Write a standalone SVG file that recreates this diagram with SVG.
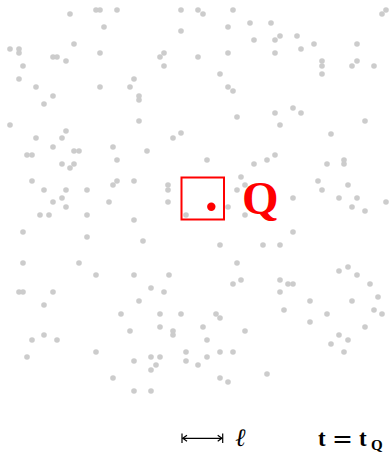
<svg xmlns="http://www.w3.org/2000/svg" width="389" height="455" viewBox="0 0 389 455">
<style>
.d{fill:#cccccc}
.red{fill:#ff0000}
.lbl{font-family:"Liberation Serif","DejaVu Serif",serif}
</style>
<defs><circle id="p" r="2.8" class="d"/></defs>
<rect width="389" height="455" fill="#ffffff"/>
<g id="points">
<use href="#p" x="70" y="14"/><use href="#p" x="96" y="10"/><use href="#p" x="100" y="10"/><use href="#p" x="117" y="10"/><use href="#p" x="104" y="27"/><use href="#p" x="10" y="49"/><use href="#p" x="19" y="49"/><use href="#p" x="19" y="53"/><use href="#p" x="23" y="66"/><use href="#p" x="19" y="79"/><use href="#p" x="36" y="87"/><use href="#p" x="53" y="57"/><use href="#p" x="57" y="57"/><use href="#p" x="66" y="61"/><use href="#p" x="74" y="44"/><use href="#p" x="100" y="53"/><use href="#p" x="100" y="87"/><use href="#p" x="130" y="87"/><use href="#p" x="53" y="96"/><use href="#p" x="44" y="104"/><use href="#p" x="10" y="125"/><use href="#p" x="66" y="131"/>
<use href="#p" x="181" y="10"/><use href="#p" x="198" y="10"/><use href="#p" x="203" y="14"/><use href="#p" x="233" y="10"/><use href="#p" x="250" y="23"/><use href="#p" x="228" y="27"/><use href="#p" x="254" y="40"/><use href="#p" x="181" y="31"/><use href="#p" x="164" y="53"/><use href="#p" x="160" y="57"/><use href="#p" x="164" y="66"/><use href="#p" x="198" y="57"/><use href="#p" x="228" y="53"/><use href="#p" x="220" y="74"/><use href="#p" x="134" y="79"/><use href="#p" x="139" y="96"/><use href="#p" x="139" y="100"/><use href="#p" x="228" y="87"/><use href="#p" x="233" y="91"/><use href="#p" x="237" y="117"/><use href="#p" x="139" y="121"/><use href="#p" x="181" y="133"/>
<use href="#p" x="271" y="23"/><use href="#p" x="382" y="14"/><use href="#p" x="386" y="10"/><use href="#p" x="280" y="36"/><use href="#p" x="275" y="40"/><use href="#p" x="297" y="36"/><use href="#p" x="301" y="49"/><use href="#p" x="314" y="44"/><use href="#p" x="275" y="53"/><use href="#p" x="357" y="44"/><use href="#p" x="322" y="61"/><use href="#p" x="322" y="66"/><use href="#p" x="322" y="74"/><use href="#p" x="357" y="61"/><use href="#p" x="352" y="66"/><use href="#p" x="374" y="66"/><use href="#p" x="275" y="113"/><use href="#p" x="293" y="108"/><use href="#p" x="301" y="113"/><use href="#p" x="280" y="125"/><use href="#p" x="365" y="121"/><use href="#p" x="331" y="134"/>
<use href="#p" x="36" y="138"/><use href="#p" x="62" y="138"/><use href="#p" x="53" y="147"/><use href="#p" x="27" y="155"/><use href="#p" x="32" y="155"/><use href="#p" x="74" y="151"/><use href="#p" x="79" y="151"/><use href="#p" x="113" y="147"/><use href="#p" x="117" y="160"/><use href="#p" x="62" y="164"/><use href="#p" x="74" y="164"/><use href="#p" x="70" y="168"/><use href="#p" x="32" y="181"/><use href="#p" x="44" y="190"/><use href="#p" x="66" y="190"/><use href="#p" x="87" y="190"/><use href="#p" x="113" y="185"/><use href="#p" x="117" y="181"/><use href="#p" x="53" y="202"/><use href="#p" x="62" y="198"/><use href="#p" x="66" y="207"/><use href="#p" x="109" y="202"/><use href="#p" x="40" y="215"/><use href="#p" x="49" y="215"/><use href="#p" x="87" y="215"/><use href="#p" x="23" y="232"/><use href="#p" x="87" y="237"/><use href="#p" x="23" y="263"/><use href="#p" x="79" y="263"/>
<use href="#p" x="173" y="138"/><use href="#p" x="147" y="151"/><use href="#p" x="207" y="160"/><use href="#p" x="254" y="164"/><use href="#p" x="241" y="177"/><use href="#p" x="134" y="181"/><use href="#p" x="168" y="185"/><use href="#p" x="168" y="190"/><use href="#p" x="237" y="190"/><use href="#p" x="245" y="185"/><use href="#p" x="168" y="202"/><use href="#p" x="228" y="207"/><use href="#p" x="186" y="215"/><use href="#p" x="245" y="215"/><use href="#p" x="134" y="220"/><use href="#p" x="143" y="241"/><use href="#p" x="220" y="245"/><use href="#p" x="237" y="263"/>
<use href="#p" x="267" y="160"/><use href="#p" x="275" y="155"/><use href="#p" x="327" y="164"/><use href="#p" x="344" y="160"/><use href="#p" x="344" y="164"/><use href="#p" x="318" y="181"/><use href="#p" x="322" y="190"/><use href="#p" x="348" y="185"/><use href="#p" x="293" y="198"/><use href="#p" x="339" y="198"/><use href="#p" x="357" y="198"/><use href="#p" x="352" y="207"/><use href="#p" x="365" y="211"/><use href="#p" x="386" y="202"/><use href="#p" x="293" y="232"/><use href="#p" x="263" y="245"/><use href="#p" x="280" y="245"/>
<use href="#p" x="96" y="275"/><use href="#p" x="19" y="292"/><use href="#p" x="23" y="292"/><use href="#p" x="53" y="292"/><use href="#p" x="44" y="305"/><use href="#p" x="121" y="314"/><use href="#p" x="130" y="331"/><use href="#p" x="32" y="340"/><use href="#p" x="44" y="335"/><use href="#p" x="57" y="340"/><use href="#p" x="27" y="357"/><use href="#p" x="96" y="352"/><use href="#p" x="113" y="378"/>
<use href="#p" x="134" y="275"/><use href="#p" x="169" y="275"/><use href="#p" x="151" y="288"/><use href="#p" x="164" y="292"/><use href="#p" x="139" y="301"/><use href="#p" x="233" y="284"/><use href="#p" x="241" y="280"/><use href="#p" x="160" y="314"/><use href="#p" x="181" y="314"/><use href="#p" x="216" y="314"/><use href="#p" x="220" y="318"/><use href="#p" x="160" y="327"/><use href="#p" x="173" y="331"/><use href="#p" x="173" y="335"/><use href="#p" x="203" y="327"/><use href="#p" x="207" y="340"/><use href="#p" x="245" y="331"/><use href="#p" x="186" y="352"/><use href="#p" x="186" y="361"/><use href="#p" x="207" y="357"/><use href="#p" x="220" y="352"/><use href="#p" x="233" y="352"/><use href="#p" x="134" y="361"/><use href="#p" x="151" y="357"/><use href="#p" x="160" y="357"/><use href="#p" x="156" y="365"/><use href="#p" x="151" y="370"/><use href="#p" x="198" y="365"/><use href="#p" x="220" y="378"/><use href="#p" x="228" y="382"/><use href="#p" x="134" y="391"/><use href="#p" x="151" y="391"/>
<use href="#p" x="339" y="271"/><use href="#p" x="348" y="267"/><use href="#p" x="357" y="275"/><use href="#p" x="280" y="280"/><use href="#p" x="288" y="284"/><use href="#p" x="293" y="284"/><use href="#p" x="280" y="292"/><use href="#p" x="370" y="284"/><use href="#p" x="378" y="297"/><use href="#p" x="310" y="301"/><use href="#p" x="352" y="301"/><use href="#p" x="284" y="310"/><use href="#p" x="374" y="310"/><use href="#p" x="382" y="314"/><use href="#p" x="327" y="314"/><use href="#p" x="310" y="322"/><use href="#p" x="365" y="327"/><use href="#p" x="339" y="335"/><use href="#p" x="348" y="340"/><use href="#p" x="331" y="344"/><use href="#p" x="344" y="352"/><use href="#p" x="267" y="374"/>
</g>
<g id="Q">
<rect x="181.5" y="177.5" width="42.5" height="42" fill="none" stroke="#ff0000" stroke-width="2"/>
<circle cx="211.3" cy="206.7" r="4.2" class="red"/>
<text x="242" y="214" class="lbl red" font-size="47" font-weight="bold">Q</text>
</g>
<g id="scale" stroke="#000" stroke-width="1.2" fill="none">
<line x1="182" y1="433.5" x2="182" y2="443"/>
<line x1="222.7" y1="433.5" x2="222.7" y2="443"/>
<line x1="182.5" y1="438.3" x2="222" y2="438.3"/>
<path d="M187,435.3 L182.8,438.3 L187,441.3"/>
<path d="M217.7,435.3 L221.9,438.3 L217.7,441.3"/>
</g>
<text x="235" y="446" class="lbl" font-size="25" font-style="italic">ℓ</text>
<g id="time" class="lbl" font-weight="bold">
<text x="318" y="446" font-size="23">t</text>
<text x="332" y="447" font-size="25" font-family="DejaVu Serif" font-weight="normal">=</text>
<text x="359" y="446" font-size="23">t</text>
<text x="371" y="450" font-size="15">Q</text>
</g>
</svg>
